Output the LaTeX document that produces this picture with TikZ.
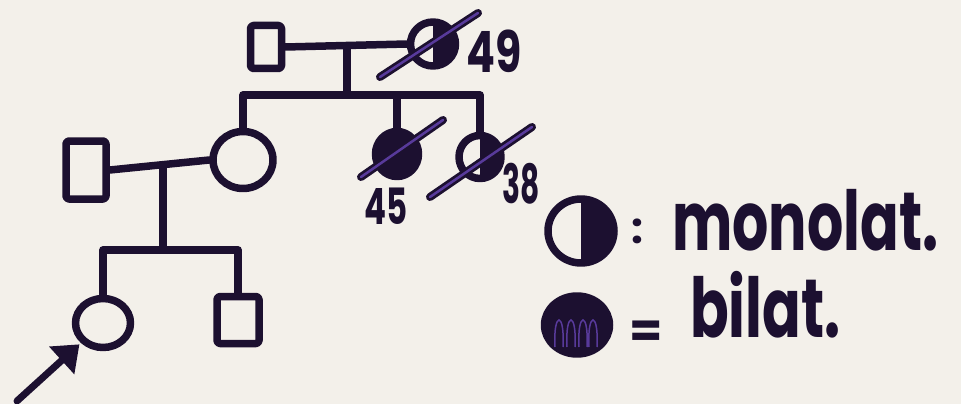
\documentclass[tikz,border=0pt]{standalone}
\usepackage{fontspec}
\setmainfont{Poppins}
\usetikzlibrary{shapes.geometric,arrows.meta,calc}
\definecolor{ink}{RGB}{28,16,48}
\definecolor{paper}{RGB}{243,240,234}
\definecolor{hl}{RGB}{88,58,155}
\begin{document}
\begin{tikzpicture}[x=1pt,y=-1pt,
  ln/.style={draw=ink,line width=7.5pt,line cap=round,line join=round},
  male/.style={rectangle,ln,inner sep=0pt,rounded corners=3pt},
  female/.style={ellipse,ln,inner sep=0pt},
  halfaff/.style={female,path picture={\fill[ink] (path picture bounding box.north) rectangle (path picture bounding box.south east);}},
  fullaff/.style={female,fill=ink},
  slashln/.style={draw=ink,line width=8pt,line cap=round},
  slashhl/.style={draw=hl,line width=2.5pt,line cap=round},
  hand/.style={text=ink,inner sep=0pt,font=\bfseries}
]
\useasboundingbox (0,0) rectangle (961,404);
\fill[paper] (0,0) rectangle (961,404);

% generation I
\node[male,minimum width=31pt,minimum height=43pt] (gf) at (266,47) {};
\node[halfaff,minimum width=45pt,minimum height=44pt] (gm) at (433,44) {};
\draw[ln] (gf.east) -- (gm.west);
\coordinate (m1) at (347,47);
\coordinate (s1) at (347,95);
\draw[ln] (m1) -- (s1);

% generation II
\node[male,minimum width=40pt,minimum height=58pt] (fa) at (86,170) {};
\node[female,minimum width=60pt,minimum height=57pt] (mo) at (243,160) {};
\node[fullaff,minimum width=43pt,minimum height=45pt] (a45) at (397,154) {};
\node[halfaff,minimum width=42pt,minimum height=43pt] (a38) at (480,157) {};
\draw[ln] (mo.north) |- (s1) -| (a38.north);
\draw[ln] (a45.north) -- (a45.north |- s1);
\draw[ln] (fa.east) -- (mo.west);
\coordinate (m2) at (163,168);
\coordinate (s2) at (163,250);
\draw[ln] (m2) -- (s2);

% generation III
\node[female,minimum width=55pt,minimum height=49pt] (pb) at (103,323) {};
\node[male,minimum width=42pt,minimum height=47pt] (so) at (238,320) {};
\draw[ln] (pb.north) |- (s2) -| (so.north);

% proband arrow
\coordinate (arrtail) at (17,401);
\draw[draw=ink,line width=7pt,line cap=round,-{Triangle[length=24pt,width=36pt,fill=ink]},shorten >=2pt] (arrtail) -- (pb.south west);

% deceased slashes
\foreach \n/\ax/\ay/\bx/\by in {gm/-53/33/45/-31, a45/-36/23/46/-34, a38/-50/40/52/-30}{
  \draw[slashln] ($(\n)+(\ax,\ay)$) -- ($(\n)+(\bx,\by)$);
  \draw[slashhl] ($(\n)+(\ax,\ay)$) -- ($(\n)+(\bx,\by)$);
}

% ages
\node[hand,font=\bfseries\fontsize{57}{57}\selectfont] (t49) at (494,51) {\scalebox{0.75}[1]{49}};
\node[hand,font=\bfseries\fontsize{50}{50}\selectfont] (t45) at (386,206) {\scalebox{0.65}[1]{45}};
\node[hand,font=\bfseries\fontsize{54}{54}\selectfont] (t38) at (521,184) {\scalebox{0.55}[1]{38}};

% legend
\node[halfaff,minimum width=66pt,minimum height=64pt] (lm) at (581,231) {};
\node[fullaff,minimum width=65pt,minimum height=58pt] (lb) at (577,325) {};
\foreach \dx in {-18,-6,6,16}{
  \draw[hl,line width=1.5pt] ($(lb)+(\dx-4,22)$) .. controls ($(lb)+(\dx-6,-14)$) and ($(lb)+(\dx+6,-14)$) .. ($(lb)+(\dx+4,22)$);
}
\node[hand,font=\bfseries\fontsize{42}{42}\selectfont] (c1) at (637,231) {:};
\node[hand,font=\bfseries\fontsize{48}{48}\selectfont] (c2) at (646,334) {=};
\node[hand,anchor=base west,font=\bfseries\fontsize{57}{57}\selectfont] (tm) at (672,250) {\scalebox{1}[1.45]{monolat.}};
\node[hand,anchor=base west,font=\bfseries\fontsize{57}{57}\selectfont] (tb) at (690,337) {\scalebox{1}[1.45]{bilat.}};
\end{tikzpicture}
\end{document}
